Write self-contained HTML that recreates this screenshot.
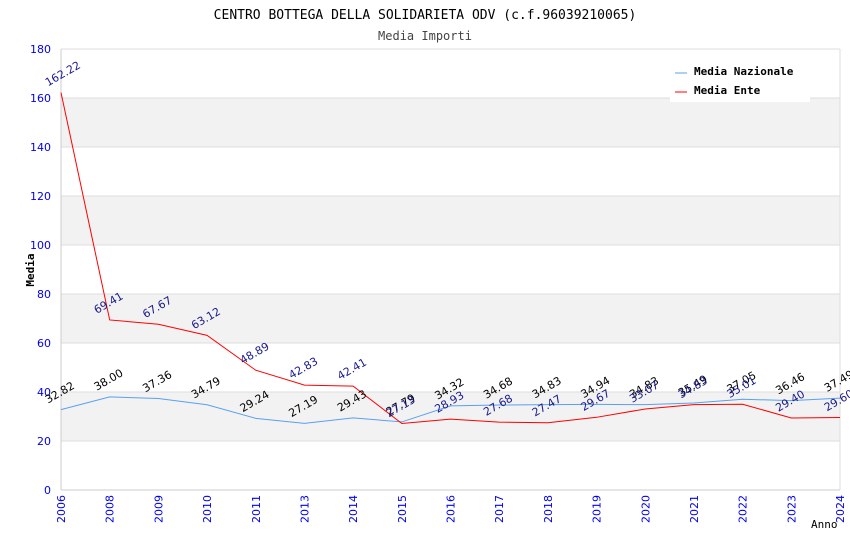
<!DOCTYPE html>
<html><head><meta charset="utf-8"><style>
body{margin:0;background:#fff;font-family:"DejaVu Sans Mono","Liberation Mono",monospace}
svg text{font-family:"DejaVu Sans","Liberation Sans",sans-serif}
</style></head><body>
<svg id="c" width="850" height="550" xmlns="http://www.w3.org/2000/svg">
<text x="425" y="19" text-anchor="middle" font-size="13" style="font-family:'DejaVu Sans Mono',monospace">CENTRO BOTTEGA DELLA SOLIDARIETA ODV (c.f.96039210065)</text>
<text x="425" y="40" text-anchor="middle" font-size="12" fill="#444" style="font-family:'DejaVu Sans Mono',monospace">Media Importi</text>
<g id="bands"></g><g id="grid"></g><g id="axes"></g><g id="series"></g><g id="labels"></g>
<text transform="translate(34,270) rotate(-90)" text-anchor="middle" font-size="11" font-weight="bold" style="font-family:'DejaVu Sans Mono',monospace">Media</text>
<text x="811" y="528" font-size="11" style="font-family:'DejaVu Sans Mono',monospace">Anno</text>
<g>
<rect x="670" y="60" width="140" height="42" fill="#fff"/>
<line x1="675" y1="73" x2="687" y2="73" stroke="#5aa0f0"/>
<text x="694" y="75" font-size="11" font-weight="bold" style="font-family:'DejaVu Sans Mono',monospace">Media Nazionale</text>
<line x1="675" y1="92" x2="687" y2="92" stroke="#f00"/>
<text x="694" y="94" font-size="11" font-weight="bold" style="font-family:'DejaVu Sans Mono',monospace">Media Ente</text>
</g>
</svg>
<script>
const categories=["2006","2008","2009","2010","2011","2013","2014","2015","2016","2017","2018","2019","2020","2021","2022","2023","2024"];
const nazionale=[32.82,38.00,37.36,34.79,29.24,27.19,29.43,27.79,34.32,34.68,34.83,34.94,34.83,35.49,37.05,36.46,37.49];
const ente=[162.22,69.41,67.67,63.12,48.89,42.83,42.41,27.13,28.93,27.68,27.47,29.67,33.07,34.83,35.01,29.40,29.60];
const yTicks=[0,20,40,60,80,100,120,140,160,180];
const NS="http://www.w3.org/2000/svg";
const L=61,R=840,T=49,B=490,YMAX=180;
const x=i=>L+i*(R-L)/(categories.length-1);
const y=v=>B-v*(B-T)/YMAX;
function mk(tag,attrs,parent,txt){const e=document.createElementNS(NS,tag);for(const k in attrs)e.setAttribute(k,attrs[k]);if(txt!==undefined)e.textContent=txt;document.getElementById(parent).appendChild(e);return e;}
for(let k=0;k<yTicks.length-1;k++){if(k%2===1){const r=mk('rect',{x:L,y:y(yTicks[k+1]),width:R-L,height:y(yTicks[k])-y(yTicks[k+1]),fill:'#f2f2f2'},'bands');

}}
yTicks.forEach(t=>{const g=mk('line',{x1:L,x2:R,y1:y(t),y2:y(t),stroke:'#ddd'},'grid');


const tx=mk('text',{x:L-10,y:y(t)+4,'text-anchor':'end','font-size':11,fill:'#0000ee'},'axes',String(t));

});
mk('line',{x1:L,x2:L,y1:T,y2:B,stroke:'#ccc'},'axes');
mk('line',{x1:L,x2:R,y1:B,y2:B,stroke:'#ccc'},'axes');
mk('line',{x1:R,x2:R,y1:T,y2:B,stroke:'#ddd'},'axes');
categories.forEach((c,i)=>{const t=mk('text',{transform:`translate(${x(i)+4},${B+5}) rotate(-90)`,'text-anchor':'end','font-size':11,fill:'#0000ee'},'axes',c);

});
function line(data,color,name){const p=mk('polyline',{points:data.map((v,i)=>x(i)+','+y(v)).join(' '),fill:'none',stroke:color,'stroke-width':1},'series');

}
line(nazionale,'#5aa0f0','series-nazionale');
line(ente,'#f00','series-ente');
nazionale.forEach((v,i)=>{const t=mk('text',{transform:`translate(${x(i)-13},${y(v)-6}) rotate(-30)`,'font-size':11,fill:'#000'},'labels',v.toFixed(2));

});
ente.forEach((v,i)=>{const t=mk('text',{transform:`translate(${x(i)-13},${y(v)-6}) rotate(-30)`,'font-size':11,fill:'#1a1a8c'},'labels',v.toFixed(2));

});
</script>
</body></html>
